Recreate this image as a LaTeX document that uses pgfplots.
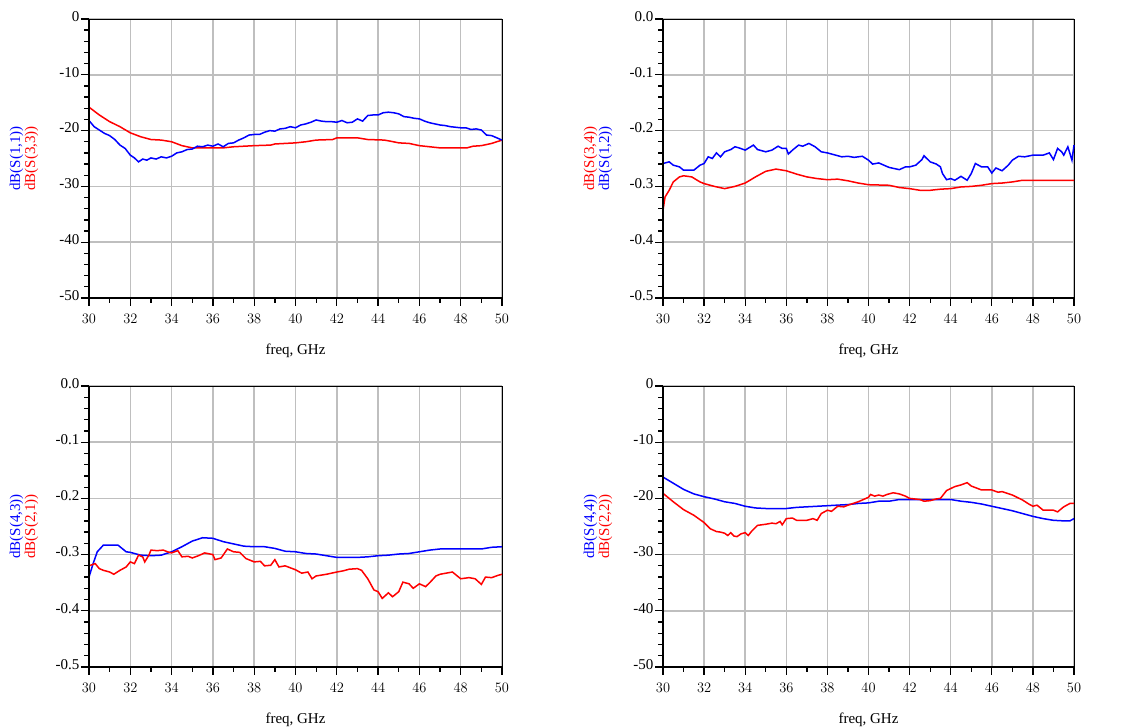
\documentclass[border=0pt]{standalone}
\usepackage{pgfplots}
\pgfplotsset{compat=1.18}
\usepackage{fontspec}
\setmainfont{Liberation Serif}
\definecolor{adsblue}{RGB}{0,0,255}
\definecolor{adsred}{RGB}{255,0,0}
\pgfplotsset{
  adsaxis/.style={
    scale only axis, width=413pt, height=279pt,
    anchor=south west,
    xmin=30, xmax=50, xtick={30,32,...,50},
    minor x tick num=1, minor y tick num=4,
    tick pos=left, tick align=outside,
    major tick length=8pt, minor tick length=5pt,
    every tick/.style={black, line width=1.3pt},
    grid=major, major grid style={gray!50, line width=1.5pt},
    axis line style={black, line width=0.8pt},
    ticklabel style={font=\fontsize{15}{15}\selectfont},
    yticklabel style={anchor=south east, xshift=2pt, yshift=-6pt},
    xticklabel style={yshift=-5pt},
    every axis plot/.append style={line width=1.5pt, no marks},
    clip=false,
  },
  dbscale/.style={ymin=-50, ymax=0, ytick={-50,-40,-30,-20,-10,0},
    yticklabels={-50,-40,-30,-20,-10,0}},
  lossscale/.style={ymin=-0.5, ymax=0, ytick={-0.5,-0.4,-0.3,-0.2,-0.1,0},
    yticklabels={-0.5,-0.4,-0.3,-0.2,-0.1,0.0}},
}
\newcommand{\spines}{\draw[black, line width=2pt] (rel axis cs:0,1) -- (rel axis cs:0,0) -- (rel axis cs:1,0);}
\newcommand{\xlab}{\node[yshift=-53pt, font=\fontsize{15}{15}\selectfont] at (rel axis cs:0.5,0) {freq, GHz};}
\newcommand{\ylab}[4]{\node[xshift=-65pt, rotate=90, font=\fontsize{15}{15}\selectfont, align=center] at (rel axis cs:0,0.5) {\textcolor{#1}{#2}\\\textcolor{#3}{#4}};}

\pgfplotstableread{
x y
30.0 -18.2
30.25 -19.3
30.5 -19.9
30.75 -20.5
31.0 -20.9
31.25 -21.6
31.5 -22.6
31.75 -23.2
32.0 -24.4
32.2 -24.9
32.4 -25.6
32.6 -25.1
32.8 -25.3
33.0 -24.9
33.25 -25.1
33.5 -24.7
33.75 -24.9
34.0 -24.6
34.25 -24.0
34.5 -23.8
34.75 -23.4
35.0 -23.3
35.25 -22.8
35.5 -22.9
35.75 -22.6
36.0 -22.8
36.25 -22.4
36.5 -22.9
36.75 -22.3
37.0 -22.2
37.25 -21.7
37.5 -21.3
37.75 -20.8
38.0 -20.7
38.25 -20.7
38.5 -20.3
38.75 -20.0
39.0 -20.1
39.25 -19.7
39.5 -19.6
39.75 -19.3
40.0 -19.5
40.25 -19.0
40.5 -18.8
40.75 -18.5
41.0 -18.1
41.25 -18.3
41.5 -18.4
41.75 -18.4
42.0 -18.5
42.25 -18.2
42.5 -18.6
42.75 -18.5
43.0 -17.9
43.25 -18.3
43.5 -17.3
43.75 -17.2
44.0 -17.2
44.25 -16.8
44.5 -16.7
44.75 -16.8
45.0 -17.0
45.25 -17.5
45.5 -17.6
45.75 -17.8
46.0 -17.9
46.25 -18.3
46.5 -18.6
46.75 -18.8
47.0 -19.0
47.25 -19.1
47.5 -19.3
47.75 -19.4
48.0 -19.5
48.25 -19.5
48.5 -19.8
48.75 -19.7
49.0 -19.9
49.25 -20.8
49.5 -20.9
49.75 -21.3
50.0 -21.7
}\tSOneOne

\pgfplotstableread{
x y
30.0 -15.8
30.5 -17.2
31.0 -18.4
31.5 -19.3
32.0 -20.4
32.5 -21.1
33.0 -21.6
33.5 -21.7
34.0 -22.0
34.5 -22.7
35.0 -23.1
36.0 -23.1
36.5 -23.1
37.0 -22.9
37.5 -22.8
38.0 -22.7
38.8 -22.6
39.0 -22.4
40.0 -22.2
40.5 -22.0
41.0 -21.7
41.8 -21.6
42.0 -21.3
43.0 -21.3
43.5 -21.6
44.3 -21.7
44.6 -21.9
45.0 -22.2
45.5 -22.3
46.0 -22.7
46.5 -22.9
47.0 -23.1
48.3 -23.1
48.6 -22.8
49.0 -22.7
49.5 -22.3
50.0 -21.7
}\tSThreeThree

\pgfplotstableread{
x y
30.0 -0.259
30.3 -0.256
30.5 -0.262
30.8 -0.265
31.0 -0.271
31.5 -0.271
31.8 -0.262
32.0 -0.259
32.2 -0.247
32.4 -0.250
32.6 -0.240
32.8 -0.247
33.0 -0.238
33.3 -0.234
33.5 -0.229
33.7 -0.231
34.0 -0.235
34.4 -0.226
34.6 -0.234
35.0 -0.238
35.3 -0.235
35.6 -0.228
35.8 -0.232
36.0 -0.232
36.1 -0.242
36.3 -0.235
36.6 -0.226
36.8 -0.228
37.1 -0.223
37.4 -0.229
37.7 -0.238
38.0 -0.240
38.4 -0.244
38.7 -0.247
39.0 -0.246
39.3 -0.248
39.5 -0.247
39.7 -0.246
40.0 -0.253
40.2 -0.260
40.5 -0.258
41.0 -0.266
41.5 -0.270
41.8 -0.265
42.0 -0.265
42.3 -0.262
42.6 -0.252
42.7 -0.245
43.0 -0.256
43.3 -0.260
43.5 -0.265
43.6 -0.277
43.8 -0.288
44.0 -0.286
44.2 -0.289
44.5 -0.282
44.8 -0.289
45.0 -0.277
45.2 -0.259
45.5 -0.265
45.8 -0.265
46.0 -0.276
46.2 -0.267
46.5 -0.272
46.8 -0.262
47.0 -0.253
47.3 -0.246
47.6 -0.247
48.0 -0.244
48.5 -0.244
48.8 -0.240
49.0 -0.252
49.2 -0.232
49.4 -0.238
49.5 -0.244
49.7 -0.229
49.9 -0.253
50.0 -0.226
}\tSOneTwo

\pgfplotstableread{
x y
30.0 -0.343
30.1 -0.319
30.3 -0.307
30.5 -0.292
30.8 -0.283
31.0 -0.281
31.4 -0.283
31.8 -0.292
32.0 -0.295
32.5 -0.300
33.0 -0.304
33.5 -0.300
34.0 -0.294
34.5 -0.283
35.0 -0.273
35.5 -0.269
36.0 -0.272
36.5 -0.278
37.0 -0.283
37.5 -0.286
38.0 -0.288
38.5 -0.287
39.0 -0.290
39.5 -0.294
40.0 -0.297
41.0 -0.298
41.5 -0.302
42.0 -0.304
42.5 -0.307
43.0 -0.307
43.5 -0.305
44.0 -0.304
44.5 -0.301
45.0 -0.300
45.5 -0.298
46.0 -0.295
46.5 -0.294
47.0 -0.292
47.5 -0.289
48.0 -0.289
49.0 -0.289
50.0 -0.289
}\tSThreeFour

\pgfplotstableread{
x y
30.0 -0.340
30.2 -0.316
30.4 -0.295
30.7 -0.283
31.0 -0.283
31.4 -0.283
31.8 -0.295
32.0 -0.296
32.5 -0.301
33.0 -0.302
33.5 -0.301
34.0 -0.295
34.5 -0.286
35.0 -0.276
35.5 -0.270
36.0 -0.271
36.5 -0.277
37.0 -0.281
37.5 -0.285
38.0 -0.286
38.5 -0.286
39.0 -0.289
39.5 -0.294
40.0 -0.295
40.5 -0.298
41.0 -0.299
41.5 -0.302
42.0 -0.305
43.0 -0.305
43.5 -0.304
44.0 -0.302
44.5 -0.301
45.0 -0.299
45.5 -0.298
46.0 -0.295
46.5 -0.292
47.0 -0.290
48.0 -0.290
49.0 -0.290
49.5 -0.287
50.0 -0.286
}\tSFourThree

\pgfplotstableread{
x y
30.0 -0.320
30.3 -0.316
30.5 -0.325
30.7 -0.328
31.0 -0.331
31.2 -0.335
31.5 -0.328
31.8 -0.322
32.0 -0.313
32.2 -0.316
32.4 -0.301
32.6 -0.304
32.7 -0.313
32.9 -0.301
33.0 -0.292
33.3 -0.293
33.6 -0.292
33.8 -0.295
34.0 -0.297
34.3 -0.293
34.5 -0.304
34.8 -0.303
35.0 -0.306
35.3 -0.302
35.6 -0.297
36.0 -0.300
36.1 -0.309
36.4 -0.306
36.7 -0.290
37.0 -0.295
37.3 -0.296
37.6 -0.307
38.0 -0.313
38.3 -0.312
38.5 -0.320
38.8 -0.319
39.0 -0.309
39.2 -0.322
39.5 -0.320
40.0 -0.327
40.3 -0.333
40.6 -0.331
40.8 -0.343
41.0 -0.338
41.5 -0.335
42.0 -0.331
42.3 -0.329
42.6 -0.326
43.0 -0.325
43.2 -0.328
43.5 -0.343
43.8 -0.363
44.0 -0.366
44.2 -0.378
44.5 -0.368
44.7 -0.375
45.0 -0.366
45.2 -0.349
45.5 -0.352
45.7 -0.360
46.0 -0.352
46.3 -0.357
46.5 -0.350
46.8 -0.338
47.0 -0.335
47.3 -0.333
47.6 -0.331
48.0 -0.343
48.4 -0.341
48.7 -0.343
49.0 -0.353
49.2 -0.340
49.5 -0.341
49.8 -0.337
50.0 -0.335
}\tSTwoOne

\pgfplotstableread{
x y
30.0 -16.2
30.5 -17.3
31.0 -18.4
31.5 -19.2
32.0 -19.7
32.5 -20.1
33.0 -20.6
33.5 -20.9
34.0 -21.4
34.5 -21.7
35.0 -21.8
36.0 -21.8
36.5 -21.6
37.0 -21.5
38.0 -21.3
39.0 -21.1
39.5 -20.9
40.0 -20.8
40.5 -20.5
41.0 -20.5
41.5 -20.2
42.0 -20.2
43.0 -20.2
44.0 -20.2
44.5 -20.5
45.0 -20.7
45.5 -21.0
46.0 -21.4
46.5 -21.8
47.0 -22.2
47.5 -22.7
48.0 -23.2
48.5 -23.6
49.0 -23.9
49.5 -24.0
49.8 -24.0
50.0 -23.6
}\tSFourFour

\pgfplotstableread{
x y
30.0 -19.1
30.5 -20.6
31.0 -22.0
31.5 -23.0
32.0 -24.3
32.3 -25.4
32.6 -25.9
32.8 -26.0
33.0 -26.2
33.15 -26.6
33.3 -26.1
33.45 -26.7
33.6 -26.8
33.8 -26.3
34.0 -26.1
34.15 -26.6
34.3 -25.9
34.6 -24.8
35.0 -24.6
35.3 -24.4
35.5 -24.5
35.7 -24.1
35.8 -24.7
36.0 -23.6
36.3 -23.5
36.5 -23.9
37.0 -23.9
37.3 -23.6
37.5 -23.9
37.7 -22.7
38.0 -22.1
38.2 -22.3
38.5 -21.4
38.8 -21.5
39.0 -21.2
39.5 -20.6
40.0 -19.8
40.1 -19.3
40.3 -19.6
40.5 -19.4
40.7 -19.6
40.9 -19.3
41.0 -19.2
41.2 -19.0
41.5 -19.2
41.8 -19.6
42.0 -20.0
42.5 -20.2
42.7 -20.5
43.0 -20.4
43.3 -20.1
43.5 -20.0
43.8 -18.6
44.2 -17.9
44.5 -17.6
44.8 -17.2
45.0 -17.8
45.5 -18.5
46.0 -18.5
46.3 -18.9
46.5 -18.8
47.0 -19.4
47.5 -20.3
47.8 -21.0
48.0 -21.4
48.2 -21.2
48.5 -22.1
49.0 -22.1
49.2 -22.4
49.5 -21.5
49.8 -20.9
50.0 -20.9
}\tSTwoTwo

\begin{document}
\begin{tikzpicture}
\useasboundingbox (0,0) rectangle (1121pt,727pt);
% top left
\begin{axis}[adsaxis, dbscale, at={(89pt,429pt)}]
\addplot[adsred] table[x=x,y=y] {\tSThreeThree};
\addplot[adsblue] table[x=x,y=y] {\tSOneOne};
\spines \xlab \ylab{adsblue}{dB(S(1,1))}{adsred}{dB(S(3,3))}
\end{axis}
% top right
\begin{axis}[adsaxis, lossscale, at={(663pt,429pt)}, width=411pt]
\addplot[adsred] table[x=x,y=y] {\tSThreeFour};
\addplot[adsblue] table[x=x,y=y] {\tSOneTwo};
\spines \xlab \ylab{adsred}{dB(S(3,4))}{adsblue}{dB(S(1,2))}
\end{axis}
% bottom left
\begin{axis}[adsaxis, lossscale, at={(89pt,60pt)}, height=281pt]
\addplot[adsblue] table[x=x,y=y] {\tSFourThree};
\addplot[adsred] table[x=x,y=y] {\tSTwoOne};
\spines \xlab \ylab{adsblue}{dB(S(4,3))}{adsred}{dB(S(2,1))}
\end{axis}
% bottom right
\begin{axis}[adsaxis, dbscale, at={(663pt,60pt)}, width=411pt, height=281pt]
\addplot[adsblue] table[x=x,y=y] {\tSFourFour};
\addplot[adsred] table[x=x,y=y] {\tSTwoTwo};
\spines \xlab \ylab{adsblue}{dB(S(4,4))}{adsred}{dB(S(2,2))}
\end{axis}
\end{tikzpicture}
\end{document}
